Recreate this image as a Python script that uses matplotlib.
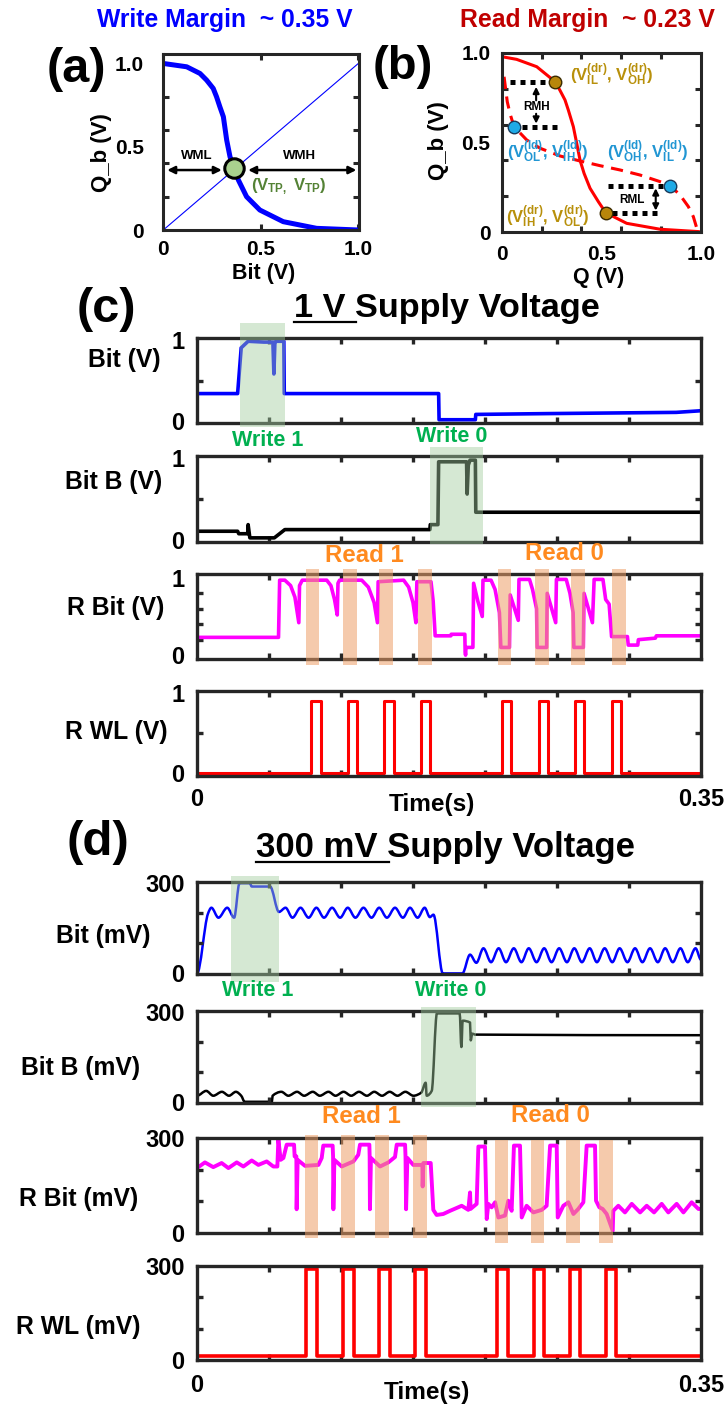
import numpy as np
import matplotlib
matplotlib.use("Agg")
import matplotlib.pyplot as plt
from matplotlib.lines import Line2D
from matplotlib.path import Path
from matplotlib.patches import PathPatch

plt.rcParams.update({
    "font.family": ["Liberation Sans", "DejaVu Sans"],
    "font.weight": "bold",
    "mathtext.fontset": "custom",
    "mathtext.rm": "Liberation Sans:bold",
    "mathtext.it": "Liberation Sans:bold",
    "mathtext.bf": "Liberation Sans:bold",
})

# ---------------- (a) write margin: inverter transfer curve ----------------
a_bit = [0.0, 0.12, 0.188, 0.222, 0.256, 0.273, 0.29, 0.308, 0.325, 0.342,
         0.359, 0.385, 0.427, 0.495, 0.615, 0.786, 1.0]
a_qb = [1.0, 0.98, 0.94, 0.90, 0.85, 0.80, 0.74, 0.68, 0.54, 0.44,
        0.38, 0.30, 0.20, 0.12, 0.05, 0.01, 0.0]
a_diag = [0.0, 1.0]
a_vtp = 0.365
a_wm_level = 0.36

# ---------------- (b) read margin: driver / load curves ----------------
b_drv_q = [0.0, 0.075, 0.176, 0.268, 0.293, 0.318, 0.335, 0.36, 0.377, 0.394,
           0.414, 0.444, 0.486, 0.523, 0.628, 0.796, 0.988]
b_drv_qb = [0.978, 0.963, 0.922, 0.839, 0.79, 0.737, 0.68, 0.588, 0.495, 0.40,
            0.328, 0.245, 0.17, 0.109, 0.05, 0.017, 0.004]
b_ld_q = [0.012, 0.028, 0.042, 0.062, 0.126, 0.193, 0.293, 0.394, 0.494,
          0.595, 0.695, 0.796, 0.846, 0.896, 0.938, 0.963, 0.983]
b_ld_qb = [0.866, 0.727, 0.66, 0.588, 0.514, 0.468, 0.425, 0.397, 0.371,
           0.347, 0.319, 0.282, 0.26, 0.208, 0.143, 0.087, 0.013]
b_dr_pts_q = [0.268, 0.523]
b_dr_pts_qb = [0.839, 0.109]
b_ld_pts_q = [0.062, 0.846]
b_ld_pts_qb = [0.588, 0.26]

# ---------------- (c) 1 V supply measurements (time in s, volts) ----------------
c_bit_t = [0.0, 0.0282, 0.0307, 0.0355, 0.0464, 0.0527, 0.0534, 0.0541, 0.0549,
           0.0603, 0.0606, 0.1678, 0.1681, 0.1933, 0.1936, 0.2430, 0.3328, 0.3500]
c_bit_v = [0.34, 0.34, 0.90, 0.98, 0.97, 0.97, 0.58, 0.97, 0.98,
           0.98, 0.34, 0.34, 0.02, 0.02, 0.085, 0.095, 0.11, 0.13]

c_bitb_t = [0.0, 0.0282, 0.0290, 0.0352, 0.0355, 0.0367, 0.0537, 0.0610, 0.1617,
            0.1620, 0.1673, 0.1678, 0.1872, 0.1876, 0.1884, 0.1896, 0.1933,
            0.1936, 0.3500]
c_bitb_v = [0.11, 0.11, 0.08, 0.08, 0.19, 0.03, 0.03, 0.13, 0.13,
            0.19, 0.19, 0.95, 0.95, 0.56, 0.91, 0.97, 0.97,
            0.34, 0.34]

c_rbit_t = [0.0, 0.0566, 0.0574, 0.0610, 0.0650, 0.0680, 0.0707,
            0.0712, 0.0731, 0.0901, 0.0930, 0.0955, 0.0974,
            0.0979, 0.0990, 0.1144, 0.1190, 0.1230, 0.1253,
            0.1258, 0.1435, 0.1470, 0.1500, 0.1520,
            0.1527, 0.1625, 0.1640, 0.1654,
            0.1763, 0.1765, 0.1860, 0.1862, 0.1865, 0.1868, 0.1916,
            0.1921, 0.1950, 0.1981, 0.1986, 0.2042,
            0.2070, 0.2100, 0.2110, 0.2170,
            0.2175, 0.2231, 0.2236, 0.2309,
            0.2330, 0.2358, 0.2362, 0.2428,
            0.2432, 0.2491, 0.2496, 0.2564,
            0.2590, 0.2612, 0.2617, 0.2683,
            0.2688, 0.2746, 0.2758, 0.2819,
            0.2838, 0.2862, 0.2879, 0.2989, 0.2995, 0.3061, 0.3065, 0.3183,
            0.3190, 0.3500]
c_rbit_v = [0.23, 0.23, 0.97, 0.97, 0.90, 0.75, 0.42,
            0.90, 0.97, 0.97, 0.90, 0.72, 0.52,
            0.93, 0.97, 0.97, 0.88, 0.68, 0.42,
            0.95, 0.97, 0.88, 0.68, 0.42,
            0.95, 0.95, 0.70, 0.25,
            0.25, 0.27, 0.27, 0.05, 0.0, 0.10, 0.10,
            0.93, 0.70, 0.50, 0.97, 0.97,
            0.85, 0.55, 0.10, 0.10,
            0.78, 0.45, 0.98, 0.98,
            0.85, 0.60, 0.10, 0.10,
            0.80, 0.42, 0.98, 0.98,
            0.80, 0.55, 0.10, 0.10,
            0.80, 0.42, 0.98, 0.98,
            0.72, 0.66, 0.24, 0.24, 0.13, 0.13, 0.20, 0.22,
            0.25, 0.25]

c_rwl_on = [0.0792, 0.1047, 0.1302, 0.1557, 0.2120, 0.2377, 0.2624, 0.2884]
c_rwl_off = [0.0858, 0.1113, 0.1367, 0.1617, 0.2183, 0.2438, 0.2690, 0.2945]
c_rwl_low, c_rwl_high = 0.0, 0.9

c_write1 = (0.0299, 0.0610)
c_write0 = (0.1617, 0.1989)
c_read_start = [0.0756, 0.1015, 0.1265, 0.1537, 0.2091, 0.2350, 0.2600, 0.2884]
c_read_end = [0.0848, 0.1108, 0.1358, 0.1629, 0.2183, 0.2442, 0.2692, 0.2976]

# ---------------- (d) 300 mV supply measurements (time in s, mV) ----------------
d_bit_t = [0.0, 0.0076, 0.0100, 0.0149, 0.0210, 0.0258, 0.0295, 0.0367, 0.0380,
           0.0508, 0.0569, 0.0615, 0.0663, 0.0719, 0.0775, 0.0829, 0.0882,
           0.0938, 0.0994, 0.1047, 0.1100, 0.1156, 0.1212, 0.1265, 0.1319,
           0.1375, 0.1430, 0.1479, 0.1532, 0.1581, 0.1617, 0.1642, 0.1707,
           0.1843, 0.1896, 0.1940, 0.1989, 0.2042, 0.2095, 0.2146, 0.2200,
           0.2253, 0.2304, 0.2358, 0.2411, 0.2462, 0.2515, 0.2569, 0.2620,
           0.2673, 0.2727, 0.2777, 0.2831, 0.2884, 0.2935, 0.2989, 0.3042,
           0.3093, 0.3146, 0.3200, 0.3251, 0.3304, 0.3357, 0.3408, 0.3462,
           0.3500]
d_bit_v = [0, 197, 217, 184, 217, 184, 298, 298, 287,
           287, 203, 217, 184, 217, 184, 217, 184,
           217, 184, 217, 184, 217, 184, 217, 184,
           217, 184, 217, 184, 217, 186, 194, 0,
           0, 62, 35, 83, 37, 83, 37, 83,
           37, 83, 37, 83, 37, 83, 37, 83,
           37, 83, 37, 83, 37, 83, 37, 83,
           37, 83, 37, 83, 37, 83, 37, 83,
           45]

d_bitb_t = [0.0, 0.0064, 0.0113, 0.0173, 0.0222, 0.0270, 0.0307, 0.0331,
            0.0520, 0.0525, 0.0586, 0.0634, 0.0695, 0.0744, 0.0804, 0.0853,
            0.0913, 0.0962, 0.1018, 0.1071, 0.1125, 0.1180, 0.1231, 0.1285,
            0.1338, 0.1392, 0.1447, 0.1503, 0.1557, 0.1588, 0.1595, 0.1630,
            0.1666, 0.1824, 0.1836, 0.1845, 0.1896, 0.1901, 0.1911, 0.1933,
            0.3500]
d_bitb_v = [22, 38, 22, 35, 22, 35, 22, 2,
            2, 22, 35, 22, 35, 22, 35, 22,
            35, 22, 35, 22, 35, 22, 35, 22,
            35, 22, 35, 22, 32, 65, 22, 38,
            294, 294, 183, 270, 264, 205, 227, 224,
            222]

d_rbit_t = [0.0, 0.0055, 0.0113, 0.0171, 0.0218, 0.0276, 0.0322, 0.0380, 0.0426,
            0.0484, 0.0530, 0.0558, 0.0565, 0.0581, 0.0600, 0.0623, 0.0674,
            0.0678, 0.0690, 0.0692, 0.0699, 0.0750, 0.0843, 0.0866, 0.0877,
            0.0942, 0.0945, 0.0947, 0.0954, 0.1005, 0.1086, 0.1120, 0.1132,
            0.1197, 0.1199, 0.1201, 0.1208, 0.1271, 0.1329, 0.1375, 0.1387,
            0.1445, 0.1448, 0.1452, 0.1461, 0.1502, 0.1565, 0.1567, 0.1572,
            0.1623, 0.1641, 0.1664, 0.1710, 0.1757, 0.1803, 0.1838, 0.1884,
            0.1896, 0.1900, 0.1942, 0.1954, 0.2000, 0.2012, 0.2023, 0.2046,
            0.2070, 0.2093, 0.2139, 0.2162, 0.2185, 0.2201, 0.2243, 0.2255,
            0.2289, 0.2336, 0.2394, 0.2428, 0.2452, 0.2498, 0.2505, 0.2544,
            0.2579, 0.2614, 0.2648, 0.2683, 0.2706, 0.2764, 0.2771, 0.2794,
            0.2817, 0.2845, 0.2887, 0.2891, 0.2926, 0.2972, 0.3019, 0.3077,
            0.3123, 0.3174, 0.3227, 0.3273, 0.3331, 0.3378, 0.3435, 0.3482,
            0.3500]
d_rbit_v = [205, 223, 208, 221, 205, 223, 210, 229, 215,
            226, 210, 210, 295, 231, 237, 279, 279,
            242, 242, 75, 231, 212, 215, 237, 276,
            276, 242, 75, 231, 210, 226, 247, 279,
            279, 242, 75, 237, 210, 223, 240, 279,
            279, 242, 75, 237, 215, 215, 147, 221,
            221, 73, 57, 60, 70, 79, 86, 73,
            128, 76, 92, 273, 273, 44, 92, 81,
            97, 49, 55, 102, 70, 276, 276, 49,
            86, 65, 73, 86, 276, 276, 49, 86,
            97, 60, 76, 97, 276, 276, 102, 81,
            76, 60, 7, 70, 86, 65, 92, 65,
            86, 65, 92, 65, 92, 65, 97, 76,
            76]

d_rwl_on = [0.0756, 0.1011, 0.1265, 0.1515, 0.2086, 0.2338, 0.2588, 0.2843]
d_rwl_off = [0.0833, 0.1088, 0.1338, 0.1593, 0.2159, 0.2411, 0.2661, 0.2911]
d_rwl_low, d_rwl_high = 12, 290

d_write1 = (0.0239, 0.0566)
d_write0 = (0.1557, 0.1940)
d_read_start = [0.0748, 0.1003, 0.1236, 0.1501, 0.2066, 0.2316, 0.2564, 0.2794]
d_read_end = [0.0841, 0.1096, 0.1333, 0.1595, 0.2163, 0.2413, 0.2661, 0.2891]

T_END = 0.35
time_minor = [0.05, 0.10, 0.15, 0.20, 0.25, 0.30]

# ---------------- colours ----------------
BLUE = "#0000FF"
DARKRED = "#C00000"
MAGENTA = "#FF00FF"
RED = "#FF0000"
GREEN_TXT = "#00B050"
ORANGE_TXT = "#FF8A1F"
GREEN_SHADE = "#A2CC9F"
ORANGE_SHADE = "#EDA068"
GOLD = "#B8900B"
SKY = "#2196D3"
SPINE = "#262626"

W, H = 728, 1408
fig = plt.figure(figsize=(W / 100, H / 100), dpi=100)


def add_ax(left, top, right, bottom):
    ax = fig.add_axes([left / W, 1 - bottom / H, (right - left) / W, (bottom - top) / H])
    ax.set_facecolor("none")
    return ax


def ftext(x, y, s, **kw):
    return fig.text(x / W, 1 - y / H, s, **kw)


def fline(x0, x1, y, lw=1.6, color="black"):
    fig.add_artist(Line2D([x0 / W, x1 / W], [1 - y / H, 1 - y / H],
                          transform=fig.transFigure, color=color, lw=lw))


def box_style(ax, lw=2.2):
    for sp in ax.spines.values():
        sp.set_linewidth(lw)
        sp.set_color(SPINE)
    ax.tick_params(which="both", direction="in", top=True, right=True,
                   color=SPINE, width=lw)


def pulse_train(on, off, lo, hi, t_end):
    t, v = [0.0], [lo]
    for a, b in zip(on, off):
        t += [a, a, b, b]
        v += [lo, hi, hi, lo]
    t.append(t_end)
    v.append(lo)
    return t, v


def smooth_trace(ax, t, v, **kw):
    """Draw a trace through its sample points as a monotone cubic Bezier path
    (flat tangents at the ripple extrema)."""
    t = np.asarray(t, float)
    v = np.asarray(v, float)
    n = len(t)
    slope = np.zeros(n)
    for i in range(1, n - 1):
        d0 = (v[i] - v[i - 1]) / (t[i] - t[i - 1])
        d1 = (v[i + 1] - v[i]) / (t[i + 1] - t[i])
        if d0 * d1 > 0:
            slope[i] = 2.0 / (1.0 / d0 + 1.0 / d1)
    verts = [(t[0], v[0])]
    codes = [Path.MOVETO]
    for i in range(n - 1):
        dt = t[i + 1] - t[i]
        verts += [(t[i] + dt / 3, v[i] + slope[i] * dt / 3),
                  (t[i + 1] - dt / 3, v[i + 1] - slope[i + 1] * dt / 3),
                  (t[i + 1], v[i + 1])]
        codes += [Path.CURVE4] * 3
    ax.add_patch(PathPatch(Path(verts, codes), fill=False, capstyle="round",
                           joinstyle="round", **kw))


# ================= panel (a) =================
ax_a = add_ax(163.3, 54.3, 359.3, 230)
box_style(ax_a)
ax_a.set_xlim(0, 1.005)
ax_a.set_ylim(0, 1.055)
ax_a.plot(a_diag, a_diag, color=BLUE, lw=0.8)
ax_a.plot(a_bit, a_qb, color=BLUE, lw=3.6, solid_joinstyle="round")
ax_a.plot([a_vtp], [a_vtp + 0.01], "o", ms=14, mfc="#A9D18E", mec="black", mew=2.2, zorder=5)
ax_a.annotate("", xy=(0.02, a_wm_level), xytext=(0.30, a_wm_level),
              arrowprops=dict(arrowstyle="<|-|>", color="black", lw=1.8,
                              mutation_scale=11, shrinkA=0, shrinkB=0))
ax_a.annotate("", xy=(0.435, a_wm_level), xytext=(0.99, a_wm_level),
              arrowprops=dict(arrowstyle="<|-|>", color="black", lw=1.8,
                              mutation_scale=11, shrinkA=0, shrinkB=0))
ax_a.text(0.17, 0.445, "WML", ha="center", va="center", fontsize=9.5)
ax_a.text(0.70, 0.445, "WMH", ha="center", va="center", fontsize=9.5)
ax_a.text(0.45, 0.26, r"(V$_{TP,}$ V$_{TP}$)", color="#548235", fontsize=12,
          ha="left", va="center")
ax_a.set_xticks([0, 0.5, 1.0])
ax_a.set_xticklabels(["0", "0.5", "1.0"])
ax_a.set_yticks([0, 0.5, 1.0])
ax_a.set_yticklabels(["0", "0.5", "1.0"])
ax_a.set_yticks([0.2, 0.4, 0.6, 0.8], minor=True)
ax_a.tick_params(axis="x", which="major", length=4, labelsize=15, pad=7)
ax_a.tick_params(axis="y", which="major", length=0, labelsize=15, pad=14)
ax_a.tick_params(axis="y", which="minor", length=4)
ftext(264, 273, "Bit (V)", ha="center", va="center", fontsize=15.5)
ftext(101.7, 153, "Q_b (V)", ha="center", va="center", fontsize=16, rotation=90)
ftext(96.7, 26.7, "Write Margin  ~ 0.35 V", color=BLUE, fontsize=17.8,
      ha="left", va="baseline")
ftext(76.7, 69, "(a)", ha="center", va="center", fontsize=35)

# ================= panel (b) =================
ax_b = add_ax(501.7, 52.7, 700.7, 232.3)
box_style(ax_b)
ax_b.set_xlim(0, 1.0)
ax_b.set_ylim(0, 1.0)
ax_b.plot(b_drv_q, b_drv_qb, color=RED, lw=2.2, solid_joinstyle="round")
ax_b.plot(b_ld_q, b_ld_qb, color=RED, lw=2.2, dashes=(4, 2.5))
# margin guides
dot_kw = dict(color="black", lw=3.6, dashes=(1, 1), solid_capstyle="butt",
              dash_capstyle="butt")
ax_b.plot([0.042, 0.243], [b_dr_pts_qb[0]] * 2, **dot_kw)
ax_b.plot([0.10, 0.293], [b_ld_pts_qb[0]] * 2, **dot_kw)
ax_b.plot([0.536, 0.812], [b_ld_pts_qb[1]] * 2, **dot_kw)
ax_b.plot([0.553, 0.804], [b_dr_pts_qb[1]] * 2, **dot_kw)
arr = dict(arrowstyle="-|>", color="black", lw=1.5, mutation_scale=9, shrinkA=0, shrinkB=0)
ax_b.annotate("", xy=(0.173, 0.81), xytext=(0.173, 0.735), arrowprops=arr)
ax_b.annotate("", xy=(0.173, 0.605), xytext=(0.173, 0.66), arrowprops=arr)
ax_b.text(0.176, 0.697, "RMH", ha="center", va="center", fontsize=8.5)
ax_b.annotate("", xy=(0.774, 0.245), xytext=(0.774, 0.121),
              arrowprops=dict(arrowstyle="<|-|>", color="black", lw=1.5,
                              mutation_scale=9, shrinkA=0, shrinkB=0))
ax_b.text(0.655, 0.18, "RML", ha="center", va="center", fontsize=8.5)
ax_b.plot(b_dr_pts_q, b_dr_pts_qb, "o", ms=9, mfc="#B8860B", mec="#3A2A00", mew=1.0, zorder=5)
ax_b.plot(b_ld_pts_q, b_ld_pts_qb, "o", ms=9, mfc="#1EAAE7", mec="#1A3A5A", mew=1.0, zorder=5)
ax_b.text(0.343, 0.876, r"(V$_{IL}^{(dr)}$, V$_{OH}^{(dr)}$)", color=GOLD,
          fontsize=12, ha="left", va="center")
ax_b.text(0.025, 0.449, r"(V$_{OL}^{(ld)}$, V$_{IH}^{(ld)}$)", color=SKY,
          fontsize=12, ha="left", va="center")
ax_b.text(0.528, 0.449, r"(V$_{OH}^{(ld)}$, V$_{IL}^{(ld)}$)", color=SKY,
          fontsize=12, ha="left", va="center")
ax_b.text(0.02, 0.087, r"(V$_{IH}^{(dr)}$, V$_{OL}^{(dr)}$)", color=GOLD,
          fontsize=12, ha="left", va="center")
ax_b.set_xticks([0, 0.5, 1.0])
ax_b.set_xticklabels(["0", "0.5", "1.0"])
ax_b.set_xticks([0.2, 0.4, 0.6, 0.8], minor=True)
ax_b.set_yticks([0, 0.5, 1.0])
ax_b.set_yticklabels(["0", "0.5", "1.0"])
ax_b.set_yticks([0.2, 0.4, 0.6, 0.8], minor=True)
ax_b.tick_params(which="major", length=0, labelsize=15)
ax_b.tick_params(axis="x", which="major", pad=9)
ax_b.tick_params(axis="y", which="major", pad=8)
ax_b.tick_params(which="minor", length=4)
ftext(599, 278, "Q (V)", ha="center", va="center", fontsize=15.5)
ftext(438.3, 141, "Q_b (V)", ha="center", va="center", fontsize=16, rotation=90)
ftext(460, 26.7, "Read Margin  ~ 0.23 V", color=DARKRED, fontsize=17.8,
      ha="left", va="baseline")
ftext(402.5, 66.7, "(b)", ha="center", va="center", fontsize=34)


# ================= time-trace panels =================
def trace_axes(top, bottom, ylim, ymajor, ylabels, yminor, show_x, xpad):
    ax = add_ax(197, top, 701, bottom)
    box_style(ax, lw=2.4)
    ax.set_xlim(0, T_END)
    ax.set_ylim(*ylim)
    ax.set_xticks([0, T_END])
    ax.set_xticks(time_minor, minor=True)
    ax.set_yticks(ymajor)
    ax.set_yticklabels(ylabels)
    ax.set_yticks(yminor, minor=True)
    ax.tick_params(which="major", length=0, labelsize=17)
    ax.tick_params(axis="y", which="major", pad=9)
    ax.tick_params(which="minor", length=4.5, width=2.4)
    if show_x:
        ax.set_xticklabels(["0", "0.35"])
        ax.tick_params(axis="x", which="major", pad=xpad)
    else:
        ax.set_xticklabels([])
    return ax


def shade(ax, t0, t1, ymin, ymax, color, alpha):
    ax.axvspan(t0, t1, ymin=ymin, ymax=ymax, color=color, alpha=alpha,
               lw=0, clip_on=False, zorder=3)


# ---- (c) 1 V ----
ftext(106.7, 310, "(c)", ha="center", va="center", fontsize=35)
ftext(293.6, 317, "1 V Supply Voltage", ha="left", va="baseline", fontsize=24.7)
fline(293.6, 355.5, 321.5, lw=1.6)

c1 = trace_axes(338, 423, (-0.02, 1.02), [0, 1], ["0", "1"], [0.5], False, 0)
c1.plot(c_bit_t, c_bit_v, color=BLUE, lw=2.6)
shade(c1, *c_write1, -0.05, 1.18, GREEN_SHADE, 0.45)

c2 = trace_axes(456, 542, (-0.02, 1.02), [0, 1], ["0", "1"], [0.5], False, 0)
c2.plot(c_bitb_t, c_bitb_v, color="black", lw=2.6)
shade(c2, *c_write0, -0.02, 1.11, GREEN_SHADE, 0.45)

c3 = trace_axes(574, 659, (-0.05, 1.05), [0, 1], ["0", "1"], [0.2, 0.4, 0.6, 0.8], False, 0)
c3.plot(c_rbit_t, c_rbit_v, color=MAGENTA, lw=2.6)
for a, b in zip(c_read_start, c_read_end):
    shade(c3, a, b, -0.07, 1.06, ORANGE_SHADE, 0.55)

c4 = trace_axes(691, 776, (-0.04, 1.02), [0, 1], ["0", "1"], [0.5], True, 9)
t_w, v_w = pulse_train(c_rwl_on, c_rwl_off, c_rwl_low, c_rwl_high, T_END)
c4.plot(t_w, v_w, color=RED, lw=2.2)

ftext(124, 360.5, "Bit (V)", ha="center", va="center", fontsize=17.8)
ftext(114, 482, "Bit B (V)", ha="center", va="center", fontsize=17.8)
ftext(116, 608, "R Bit (V)", ha="center", va="center", fontsize=17.8)
ftext(116.5, 732, "R WL (V)", ha="center", va="center", fontsize=17.8)
ftext(268, 440, "Write 1", color=GREEN_TXT, ha="center", va="center", fontsize=15.5)
ftext(451.5, 437, "Write 0", color=GREEN_TXT, ha="center", va="center", fontsize=15.5)
ftext(364, 555, "Read 1", color=ORANGE_TXT, ha="center", va="center", fontsize=17.3)
ftext(564, 553, "Read 0", color=ORANGE_TXT, ha="center", va="center", fontsize=17.3)
ftext(432, 805, "Time(s)", ha="center", va="center", fontsize=17.6)

# ---- (d) 300 mV ----
ftext(98.3, 842.7, "(d)", ha="center", va="center", fontsize=35.5)
ftext(256, 856.7, "300 mV Supply Voltage", ha="left", va="baseline", fontsize=25)
fline(256, 389, 861.7, lw=1.6)

d1 = trace_axes(882, 974, (-2, 302), [0, 300], ["0", "300"], [100, 200], False, 0)
smooth_trace(d1, d_bit_t, d_bit_v, color=BLUE, lw=1.8)
shade(d1, *d_write1, -0.085, 1.06, GREEN_SHADE, 0.45)

d2 = trace_axes(1011, 1103, (-2, 302), [0, 300], ["0", "300"], [100, 200], False, 0)
smooth_trace(d2, d_bitb_t, d_bitb_v, color="black", lw=1.8)
shade(d2, *d_write0, -0.047, 1.047, GREEN_SHADE, 0.45)

d3 = trace_axes(1138, 1233, (0, 300), [0, 300], ["0", "300"], [100, 200], False, 0)
d3.plot(d_rbit_t, d_rbit_v, color=MAGENTA, lw=2.8, solid_joinstyle="round")
for i, (a, b) in enumerate(zip(d_read_start, d_read_end)):
    if i < 4:
        shade(d3, a, b, -0.05, 1.03, ORANGE_SHADE, 0.55)
    else:
        shade(d3, a, b, -0.10, 0.98, ORANGE_SHADE, 0.55)

d4 = trace_axes(1266, 1360, (0, 300), [0, 300], ["0", "300"], [100, 200], True, 10)
t_w, v_w = pulse_train(d_rwl_on, d_rwl_off, d_rwl_low, d_rwl_high, T_END)
d4.plot(t_w, v_w, color=RED, lw=2.6)

ftext(150, 935.7, "Bit (mV)", ha="right", va="center", fontsize=17.8)
ftext(140, 1067.5, "Bit B (mV)", ha="right", va="center", fontsize=17.8)
ftext(138, 1199, "R Bit (mV)", ha="right", va="center", fontsize=17.8)
ftext(140, 1327, "R WL (mV)", ha="right", va="center", fontsize=17.8)
ftext(258, 990, "Write 1", color=GREEN_TXT, ha="center", va="center", fontsize=15.5)
ftext(450.5, 990, "Write 0", color=GREEN_TXT, ha="center", va="center", fontsize=15.5)
ftext(361, 1116.7, "Read 1", color=ORANGE_TXT, ha="center", va="center", fontsize=17.3)
ftext(550, 1116, "Read 0", color=ORANGE_TXT, ha="center", va="center", fontsize=17.3)
ftext(427, 1393, "Time(s)", ha="center", va="center", fontsize=17.6)

fig.savefig("out.png", dpi=100)
